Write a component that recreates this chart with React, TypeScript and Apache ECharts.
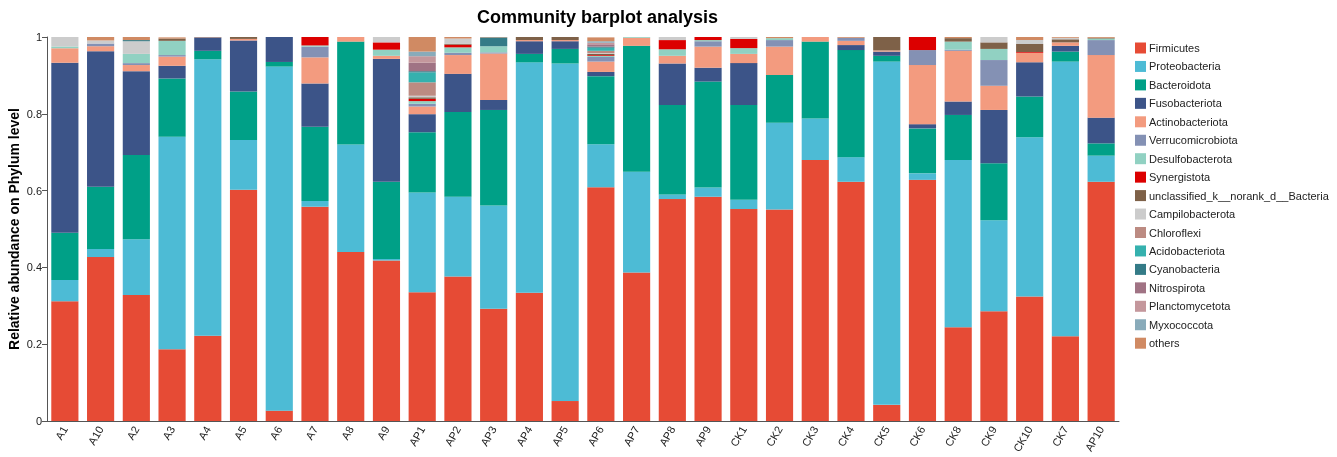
import React, { useEffect, useRef } from "react";
import * as echarts from "echarts";

const categories = ["A1","A10","A2","A3","A4","A5","A6","A7","A8","A9","AP1","AP2","AP3","AP4","AP5","AP6","AP7","AP8","AP9","CK1","CK2","CK3","CK4","CK5","CK6","CK8","CK9","CK10","CK7","AP10"];

const seriesNames = ["Firmicutes","Proteobacteria","Bacteroidota","Fusobacteriota","Actinobacteriota","Verrucomicrobiota","Desulfobacterota","Synergistota","unclassified_k__norank_d__Bacteria","Campilobacterota","Chloroflexi","Acidobacteriota","Cyanobacteria","Nitrospirota","Planctomycetota","Myxococcota","others"];

const colors = ["#E64B35","#4DBBD5","#00A087","#3C5488","#F39B7F","#8491B4","#91D1C2","#DC0000","#7E6148","#CCCCCC","#BC8B82","#35B1AE","#347B87","#A07384","#C4979C","#89ABBA","#D08A63"];

const firmicutes = [.312,.427,.328,.187,.222,.602,.027,.558,.440,.418,.335,.376,.292,.334,.052,.609,.387,.578,.584,.552,.551,.680,.623,.042,.628,.244,.286,.324,.221,.623];
const proteobacteria = [.055,.021,.145,.553,.720,.130,.896,.015,.280,.004,.260,.208,.269,.600,.879,.112,.262,.012,.024,.024,.226,.108,.064,.894,.017,.436,.237,.415,.715,.068];
const bacteroidota = [.123,.162,.220,.152,.022,.126,.012,.193,.268,.201,.157,.221,.249,.022,.038,.177,.328,.233,.276,.247,.124,.200,.279,.015,.117,.117,.148,.106,.026,.032];
const fusobacteriota = [.443,.353,.218,.033,.035,.133,.065,.113,0,.320,.047,.099,.026,.033,.020,.011,0,.108,.036,.109,0,0,.013,.011,.011,.035,.139,.089,.015,.067];
const actinobacteriota = [.038,.013,.016,.024,0,.004,0,.068,.012,.008,.020,.049,.121,.003,.003,.027,.021,.020,.055,.024,.074,.012,.011,.003,.154,.132,.063,.025,.009,.163];
const verrucomicrobiota = [0,.007,.005,.004,0,0,0,.028,0,0,.007,.006,.003,0,0,.012,0,0,.014,0,.017,0,.008,0,.039,.003,.067,0,0,.039];
const desulfobacterota = [.004,0,.024,.037,0,0,0,.003,0,.016,.007,.014,.016,0,0,.003,.002,.017,.003,.015,.005,0,0,0,0,.021,.029,0,0,.004];
const synergistota = [0,0,0,0,0,0,0,.022,0,.019,.006,.007,0,0,0,.002,0,.024,.008,.024,0,0,0,0,.034,0,0,.002,0,0];
const unclassified = [0,0,0,.006,0,.005,0,0,0,0,.004,.002,0,.008,.008,.003,0,0,0,0,0,0,0,.035,0,.009,.017,.021,.008,.002];
const campilobacterota = [.025,.008,.033,0,0,0,0,0,0,.014,.004,.014,0,0,0,.002,0,.008,0,.005,0,0,0,0,0,0,.014,.010,.004,0];
const chloroflexi = [0,0,0,0,0,0,0,0,0,0,.035,0,0,0,0,.006,0,0,0,0,0,0,0,0,0,0,0,0,0,0];
const acidobacteriota = [0,0,0,0,0,0,0,0,0,0,.026,0,0,0,0,.008,0,0,0,0,0,0,0,0,0,0,0,0,0,0];
const cyanobacteria = [0,0,.003,0,0,0,0,0,0,0,.003,0,.023,0,0,.003,0,0,0,0,0,0,0,0,0,0,0,0,0,0];
const nitrospirota = [0,0,0,0,0,0,0,0,0,0,.022,0,0,0,0,.006,0,0,0,0,0,0,0,0,0,0,0,0,0,0];
const planctomycetota = [0,0,0,0,0,0,0,0,0,0,.017,0,0,0,0,.004,0,0,0,0,0,0,0,0,0,0,0,0,0,0];
const myxococcota = [0,0,0,0,0,0,0,0,0,0,.012,0,0,0,0,.004,0,0,0,0,0,0,0,0,0,0,0,0,0,0];
const others = [0,.009,.008,.003,.001,0,0,0,0,0,.038,.004,.001,0,0,.010,0,0,0,0,.003,0,.002,.001,0,.003,0,.008,.002,.002];

const seriesData = [firmicutes,proteobacteria,bacteroidota,fusobacteriota,actinobacteriota,verrucomicrobiota,desulfobacterota,synergistota,unclassified,campilobacterota,chloroflexi,acidobacteriota,cyanobacteria,nitrospirota,planctomycetota,myxococcota,others];

const FONT = "Arial, 'Liberation Sans', sans-serif";

export default function App() {
  const ref = useRef<HTMLDivElement>(null);
  useEffect(() => {
    if (!ref.current) return;
    const chart = echarts.init(ref.current, null, { renderer: "svg" });
    chart.setOption({
      animation: false,
      textStyle: { fontFamily: FONT },
      title: {
        text: "Community barplot analysis",
        left: 472,
        top: 3,
        textStyle: { fontSize: 18, fontWeight: "bold", color: "#000", fontFamily: FONT },
      },
      grid: { left: 47, right: 218, top: 37, bottom: 36, containLabel: false, outerBoundsMode: "none" },
      legend: {
        orient: "vertical",
        left: 1135,
        top: 42.5,
        padding: 0,
        itemWidth: 11,
        itemHeight: 11,
        itemGap: 7.45,
        icon: "rect",
        textStyle: { fontSize: 11, color: "#222", fontFamily: FONT, padding: [0, 0, 0, -2] },
        data: seriesNames,
      },
      xAxis: {
        type: "category",
        data: categories,
        axisLine: { lineStyle: { color: "#555", width: 1 } },
        axisTick: { alignWithLabel: true, length: 5, lineStyle: { color: "#555" } },
        axisLabel: { rotate: 60, fontSize: 11, color: "#222", margin: 6, interval: 0 },
      },
      yAxis: {
        type: "value",
        min: 0,
        max: 1,
        interval: 0.2,
        name: "Relative abundance on Phylum level",
        nameLocation: "middle",
        nameGap: 26,
        nameMoveOverlap: false,
        nameTextStyle: { fontSize: 14, fontWeight: "bold", color: "#000" },
        axisLine: { show: true, lineStyle: { color: "#555", width: 1 } },
        axisTick: { show: true, length: 5, lineStyle: { color: "#555" } },
        axisLabel: { fontSize: 11, color: "#222", margin: 5 },
        splitLine: { show: false },
      },
      series: seriesNames.map((name, i) => ({
        name,
        type: "bar",
        stack: "total",
        data: seriesData[i],
        barCategoryGap: "24%",
        itemStyle: { color: colors[i] },
        emphasis: { disabled: true },
      })),
    });
    return () => chart.dispose();
  }, []);
  return (
    <div
      ref={ref}
      style={{ position: "fixed", left: 0, top: 0, width: 1337, height: 457 }}
    />
  );
}
